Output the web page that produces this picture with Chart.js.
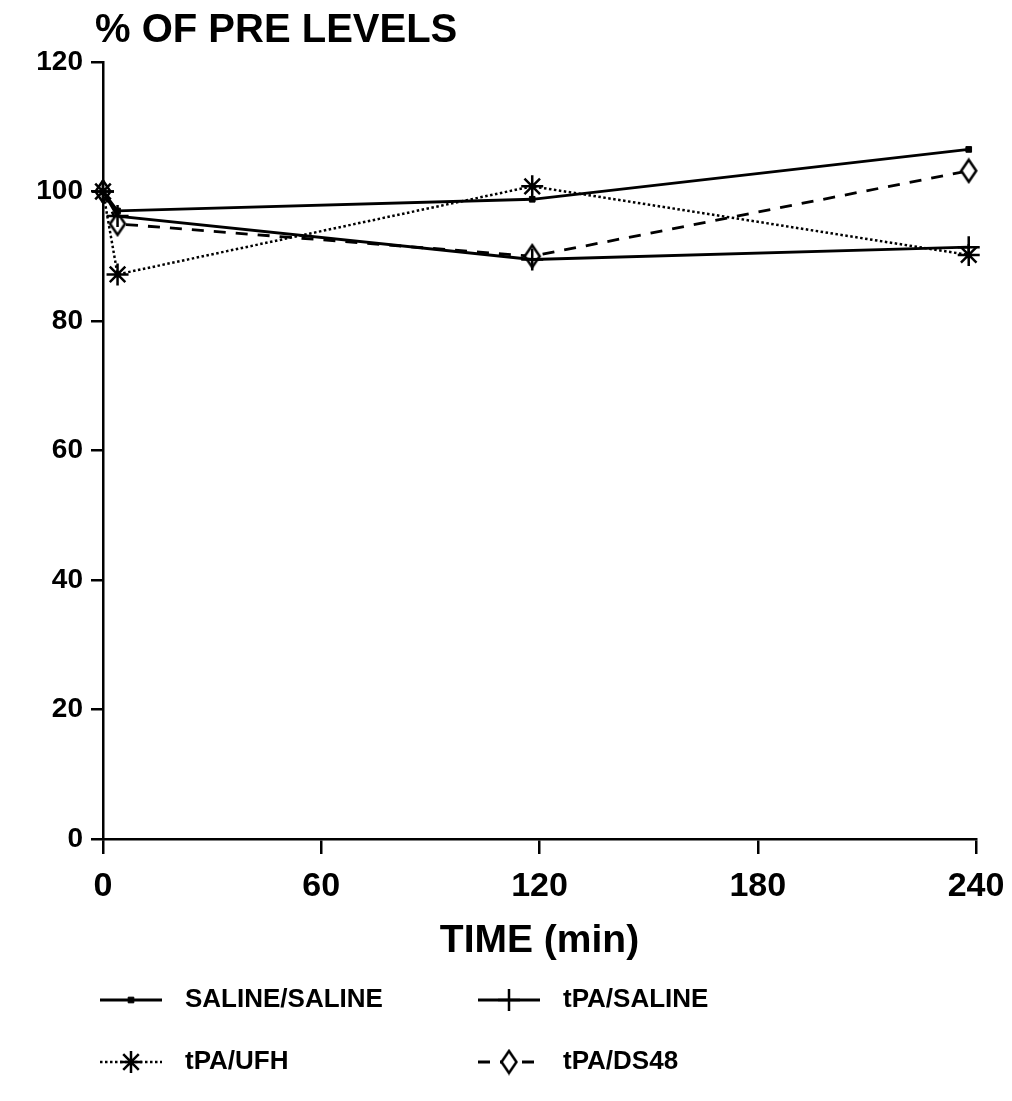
<!DOCTYPE html>
<html>
<head>
<meta charset="utf-8">
<script src="https://cdn.jsdelivr.net/npm/chart.js@4.4.1/dist/chart.umd.min.js"></script>
<style>
  html, body { margin: 0; padding: 0; background: #fff; }
  #wrap { width: 1012px; height: 1101px; }
</style>
</head>
<body>
<div id="wrap"><canvas id="levelsChart" width="1012" height="1101"></canvas></div>
<script>
// sampling times (min) and % of pre levels per group
const times = [0, 4, 118, 238];
const salineSaline = [100, 97, 98.8, 106.5];
const tpaSaline = [100, 96.2, 89.5, 91.4];
const tpaUfh = [100, 87.2, 100.8, 90.2];
const tpaDs48 = [100, 95, 90, 103.2];

const xTicks = [0, 60, 120, 180, 240];
const yTicks = [0, 20, 40, 60, 80, 100, 120];

const FONT = '"Liberation Sans", Arial, Helvetica, sans-serif';

function toPoints(values) {
    return times.map((t, i) => ({ x: t, y: values[i] }));
}

// tall open diamond used as the DS48 marker
function makeDiamond(w, h, lw) {
    const c = document.createElement('canvas');
    c.width = w + lw * 2;
    c.height = h + lw * 2;
    const g = c.getContext('2d');
    const cx = c.width / 2, cy = c.height / 2;
    g.beginPath();
    g.moveTo(cx, cy - h / 2);
    g.lineTo(cx + w / 2, cy);
    g.lineTo(cx, cy + h / 2);
    g.lineTo(cx - w / 2, cy);
    g.closePath();
    g.fillStyle = '#fff';
    g.fill();
    g.lineWidth = lw;
    g.strokeStyle = '#000';
    g.stroke();
    return c;
}
const diamond = makeDiamond(15, 22, 2.5);

// caption above the y axis and the 2x2 key under the plot
const captionsPlugin = {
    id: 'captions',
    afterDraw(chart) {
        const ctx = chart.ctx;
        ctx.save();
        ctx.fillStyle = '#000';
        ctx.textBaseline = 'middle';
        ctx.font = 'bold 40px ' + FONT;
        ctx.fillText('% OF PRE LEVELS', 95, 31);

        const slots = [[100, 1000], [478, 1000], [100, 1062], [478, 1062]];
        ctx.font = 'bold 26px ' + FONT;
        chart.data.datasets.forEach((ds, i) => {
            const [x, y] = slots[i];
            ctx.beginPath();
            ctx.strokeStyle = '#000';
            ctx.lineWidth = ds.borderWidth;
            ctx.setLineDash(ds.borderDash || []);
            ctx.moveTo(x, y);
            ctx.lineTo(x + 62, y);
            ctx.stroke();
            ctx.setLineDash([]);
            ctx.fillStyle = ds.pointBackgroundColor;
            ctx.strokeStyle = '#000';
            ctx.lineWidth = ds.pointBorderWidth;
            Chart.helpers.drawPoint(ctx, {
                pointStyle: ds.pointStyle,
                radius: ds.pointRadius,
                borderWidth: ds.pointBorderWidth,
                rotation: 0
            }, x + 31, y);
            ctx.fillStyle = '#000';
            ctx.fillText(ds.label, x + 85, y);
        });
        ctx.restore();
    }
};

const ctx = document.getElementById('levelsChart').getContext('2d');
new Chart(ctx, {
    type: 'line',
    data: {
        datasets: [
            {
                label: 'SALINE/SALINE',
                data: toPoints(salineSaline),
                borderColor: '#000',
                borderWidth: 2.8,
                pointStyle: 'rect',
                pointRadius: 4,
                pointBorderWidth: 1,
                pointBackgroundColor: '#000',
                pointBorderColor: '#000'
            },
            {
                label: 'tPA/SALINE',
                data: toPoints(tpaSaline),
                borderColor: '#000',
                borderWidth: 2.8,
                pointStyle: 'cross',
                pointRadius: 11,
                pointBorderWidth: 2.5,
                pointBackgroundColor: '#000',
                pointBorderColor: '#000'
            },
            {
                label: 'tPA/UFH',
                data: toPoints(tpaUfh),
                borderColor: '#000',
                borderWidth: 2.5,
                borderDash: [2.5, 2.5],
                pointStyle: 'star',
                pointRadius: 11,
                pointBorderWidth: 2.5,
                pointBackgroundColor: '#000',
                pointBorderColor: '#000'
            },
            {
                label: 'tPA/DS48',
                data: toPoints(tpaDs48),
                borderColor: '#000',
                borderWidth: 2.8,
                borderDash: [12, 10],
                pointStyle: diamond,
                pointRadius: 9,
                pointBorderWidth: 2.5,
                pointBackgroundColor: '#fff',
                pointBorderColor: '#000'
            }
        ]
    },
    options: {
        responsive: false,
        animation: false,
        clip: false,
        layout: {
            padding: { left: 0, right: 36, top: 62, bottom: 134 }
        },
        plugins: {
            legend: { display: false },
            tooltip: { enabled: false }
        },
        scales: {
            x: {
                type: 'linear',
                min: 0,
                max: 240,
                afterBuildTicks: scale => { scale.ticks = xTicks.map(v => ({ value: v })); },
                afterFit: scale => {
                    scale.height = 128;
                    scale.paddingLeft = 0;
                    scale.paddingRight = 0;
                },
                grid: { drawOnChartArea: false, tickLength: 15, color: '#000', lineWidth: 2.5 },
                border: { color: '#000', width: 2.5 },
                ticks: { color: '#000', padding: 12, font: { family: FONT, size: 34, weight: 'bold' } },
                title: {
                    display: true,
                    text: 'TIME (min)',
                    color: '#000',
                    padding: { top: 4, bottom: 2 },
                    font: { family: FONT, size: 39, weight: 'bold' }
                }
            },
            y: {
                min: 0,
                max: 120,
                afterBuildTicks: scale => { scale.ticks = yTicks.map(v => ({ value: v })); },
                afterFit: scale => { scale.width = 103; },
                grid: { drawOnChartArea: false, tickLength: 12, color: '#000', lineWidth: 2.5 },
                border: { color: '#000', width: 2.5 },
                ticks: { color: '#000', padding: 8, font: { family: FONT, size: 28, weight: 'bold' } }
            }
        }
    },
    plugins: [captionsPlugin]
});
</script>
</body>
</html>
